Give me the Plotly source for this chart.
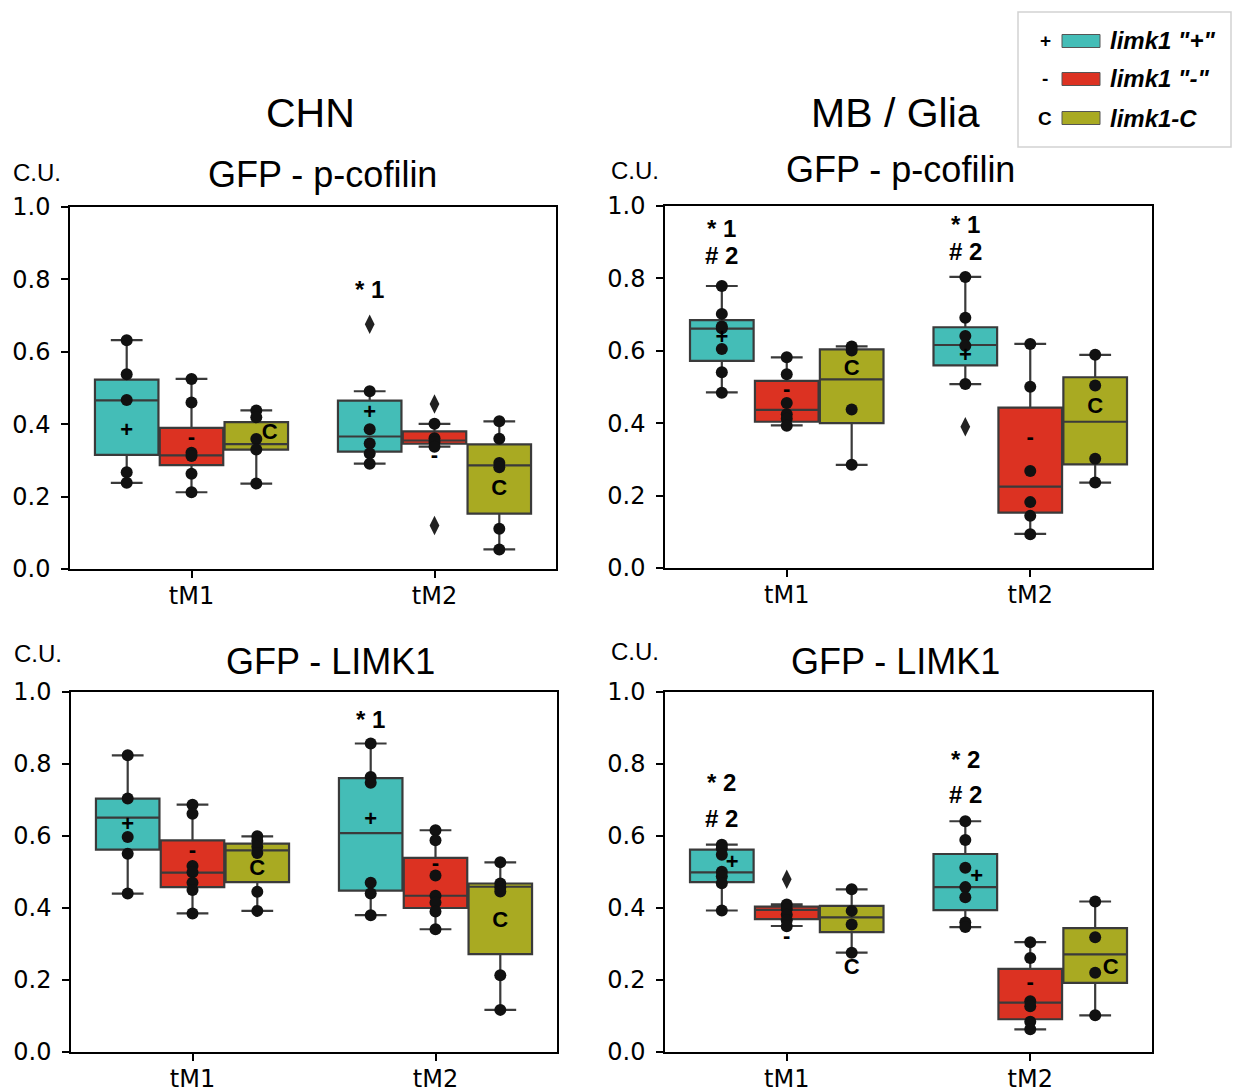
import plotly.graph_objects as go

W, H = 1233, 1092

# ---------------- data ----------------
CATEGORIES = ["tM1", "tM2"]
GENOTYPES = ['limk1 "+"', 'limk1 "-"', "limk1-C"]
MARKS = ["+", "-", "C"]
Y_TICKS = [0.0, 0.2, 0.4, 0.6, 0.8, 1.0]

# each list is [tM1 [+, -, C], tM2 [+, -, C]]
# CHN  GFP - p-cofilin
chn_cof_low = [[0.238, 0.212, 0.236], [0.291, 0.338, 0.054]]
chn_cof_q1 = [[0.315, 0.287, 0.330], [0.324, 0.346, 0.153]]
chn_cof_med = [[0.466, 0.314, 0.345], [0.366, 0.355, 0.286]]
chn_cof_q3 = [[0.523, 0.390, 0.406], [0.465, 0.380, 0.344]]
chn_cof_high = [[0.632, 0.525, 0.438], [0.491, 0.401, 0.408]]
chn_cof_mean = [[0.381, 0.360, 0.373], [0.429, 0.312, 0.219]]
chn_cof_pts = [
    [[0.632, 0.538, 0.467, 0.267, 0.238], [0.525, 0.460, 0.321, 0.312, 0.263, 0.212], [0.438, 0.419, 0.359, 0.330, 0.236]],
    [[0.491, 0.386, 0.347, 0.319, 0.291], [0.401, 0.361, 0.351, 0.338], [0.408, 0.360, 0.293, 0.281, 0.111, 0.054]],
]
chn_cof_out = [[[], [], []], [[0.676], [0.456, 0.120], []]]

# MB / Glia  GFP - p-cofilin
mb_cof_low = [[0.485, 0.394, 0.285], [0.508, 0.094, 0.236]]
mb_cof_q1 = [[0.572, 0.404, 0.400], [0.560, 0.153, 0.286]]
mb_cof_med = [[0.661, 0.437, 0.521], [0.616, 0.225, 0.404]]
mb_cof_q3 = [[0.685, 0.517, 0.604], [0.665, 0.443, 0.527]]
mb_cof_high = [[0.779, 0.582, 0.612], [0.804, 0.619, 0.589]]
mb_cof_mean = [[0.633, 0.489, 0.548], [0.585, 0.359, 0.444]]
mb_cof_pts = [
    [[0.779, 0.702, 0.667, 0.662, 0.605, 0.541, 0.484], [0.582, 0.535, 0.456, 0.425, 0.412, 0.393], [0.612, 0.601, 0.438, 0.285]],
    [[0.804, 0.691, 0.641, 0.614, 0.508], [0.619, 0.501, 0.268, 0.182, 0.144, 0.093], [0.589, 0.504, 0.302, 0.236]],
]
mb_cof_out = [[[], [], []], [[0.390], [], []]]

# CHN  GFP - LIMK1
chn_lim_low = [[0.440, 0.385, 0.392], [0.380, 0.341, 0.117]]
chn_lim_q1 = [[0.562, 0.458, 0.472], [0.448, 0.400, 0.272]]
chn_lim_med = [[0.651, 0.498, 0.560], [0.608, 0.434, 0.459]]
chn_lim_q3 = [[0.704, 0.588, 0.579], [0.761, 0.539, 0.468]]
chn_lim_high = [[0.824, 0.687, 0.599], [0.857, 0.616, 0.527]]
chn_lim_mean = [[0.630, 0.558, 0.507], [0.644, 0.522, 0.362]]
chn_lim_pts = [
    [[0.824, 0.704, 0.597, 0.551, 0.440], [0.687, 0.662, 0.517, 0.499, 0.470, 0.450, 0.385], [0.599, 0.586, 0.570, 0.553, 0.445, 0.392]],
    [[0.857, 0.764, 0.748, 0.470, 0.440, 0.380], [0.616, 0.588, 0.490, 0.434, 0.415, 0.390, 0.341], [0.527, 0.468, 0.457, 0.446, 0.213, 0.117]],
]
chn_lim_out = [[[], [], []], [[], [], []]]

# MB / Glia  GFP - LIMK1
mb_lim_low = [[0.393, 0.350, 0.276], [0.347, 0.063, 0.102]]
mb_lim_q1 = [[0.472, 0.369, 0.333], [0.394, 0.091, 0.192]]
mb_lim_med = [[0.499, 0.395, 0.374], [0.458, 0.137, 0.271]]
mb_lim_q3 = [[0.562, 0.404, 0.406], [0.550, 0.231, 0.344]]
mb_lim_high = [[0.576, 0.410, 0.452], [0.641, 0.305, 0.418]]
mb_lim_mean = [[0.525, 0.317, 0.233], [0.485, 0.190, 0.231]]
mb_lim_pts = [
    [[0.576, 0.566, 0.548, 0.501, 0.488, 0.469, 0.393], [0.410, 0.397, 0.381, 0.366, 0.349], [0.452, 0.392, 0.354, 0.276]],
    [[0.641, 0.589, 0.512, 0.458, 0.430, 0.360, 0.347], [0.305, 0.261, 0.141, 0.127, 0.084, 0.063], [0.418, 0.319, 0.220, 0.102]],
]
mb_lim_out = [[[], [0.480], []], [[], [], []]]

# significance labels: (panel index, category index, text, y value)
SIG_LABELS = [
    (0, 1, "* 1", 0.772),
    (1, 0, "* 1", 0.937), (1, 0, "# 2", 0.863),
    (1, 1, "* 1", 0.950), (1, 1, "# 2", 0.875),
    (2, 1, "* 1", 0.925),
    (3, 0, "* 2", 0.748), (3, 0, "# 2", 0.649),
    (3, 1, "* 2", 0.813), (3, 1, "# 2", 0.714),
]

COLUMN_TITLES = ["CHN", "MB / Glia"]
PANEL_TITLES = ["GFP - p-cofilin", "GFP - p-cofilin", "GFP - LIMK1", "GFP - LIMK1"]
Y_LABEL = "C.U."

# ---------------- style ----------------
COLORS = ["#44BDB7", "#DC3222", "#A9AA22"]
EDGE = "#3a3a3a"
SANS = "Liberation Sans, Arial, sans-serif"
TICKFONT = dict(family="DejaVu Sans", size=24, color="black")

# small horizontal nudges of the mean-label text (data units): [panel][cat][hue]
MARK_NUDGE = [
    [[0, 0, 0.055], [0, 0, 0]],
    [[0, 0, 0], [0, 0, 0]],
    [[0, 0, 0], [0, 0, 0]],
    [[0.043, 0, 0], [0.047, 0, 0.064]],
]

# panel plot areas in pixels (x0, x1, y0_top, y1_bottom)
PANEL_PX = [
    (70, 556, 207, 569),
    (665, 1152, 206, 568),
    (71, 557, 692, 1052),
    (665, 1152, 692, 1052),
]

panels = [
    dict(low=chn_cof_low, q1=chn_cof_q1, med=chn_cof_med, q3=chn_cof_q3, high=chn_cof_high,
         mean=chn_cof_mean, pts=chn_cof_pts, out=chn_cof_out),
    dict(low=mb_cof_low, q1=mb_cof_q1, med=mb_cof_med, q3=mb_cof_q3, high=mb_cof_high,
         mean=mb_cof_mean, pts=mb_cof_pts, out=mb_cof_out),
    dict(low=chn_lim_low, q1=chn_lim_q1, med=chn_lim_med, q3=chn_lim_q3, high=chn_lim_high,
         mean=chn_lim_mean, pts=chn_lim_pts, out=chn_lim_out),
    dict(low=mb_lim_low, q1=mb_lim_q1, med=mb_lim_med, q3=mb_lim_q3, high=mb_lim_high,
         mean=mb_lim_mean, pts=mb_lim_pts, out=mb_lim_out),
]

GROUP_WIDTH = 0.8
n_h = len(GENOTYPES)
slot = GROUP_WIDTH / n_h
offsets = [-GROUP_WIDTH / 2 + slot * (i + 0.5) for i in range(n_h)]


def px(x):
    return x / W


def py(y):
    return 1 - y / H


fig = go.Figure()

for p_i, panel in enumerate(panels):
    xa = "x" if p_i == 0 else f"x{p_i + 1}"
    ya = "y" if p_i == 0 else f"y{p_i + 1}"
    for c_i, cat in enumerate(CATEGORIES):
        for h_i in range(n_h):
            pos = c_i + offsets[h_i]
            fig.add_trace(go.Box(
                x=[pos],
                q1=[panel["q1"][c_i][h_i]], median=[panel["med"][c_i][h_i]],
                q3=[panel["q3"][c_i][h_i]],
                lowerfence=[panel["low"][c_i][h_i]], upperfence=[panel["high"][c_i][h_i]],
                width=slot * 0.98, whiskerwidth=0.5,
                fillcolor=COLORS[h_i], line=dict(color=EDGE, width=2.2),
                boxpoints=False, xaxis=xa, yaxis=ya, showlegend=False,
                hoverinfo="skip", name=GENOTYPES[h_i],
            ))
            pts = panel["pts"][c_i][h_i]
            fig.add_trace(go.Scatter(
                x=[pos] * len(pts), y=pts, mode="markers",
                marker=dict(size=12, color="#111111"),
                xaxis=xa, yaxis=ya, showlegend=False, hoverinfo="skip",
            ))
            outs = panel["out"][c_i][h_i]
            if outs:
                fig.add_trace(go.Scatter(
                    x=[pos] * len(outs), y=outs, mode="markers",
                    marker=dict(symbol="diamond-tall", size=14, color="#222222"),
                    xaxis=xa, yaxis=ya, showlegend=False, hoverinfo="skip",
                ))
            fig.add_trace(go.Scatter(
                x=[pos + MARK_NUDGE[p_i][c_i][h_i]], y=[panel["mean"][c_i][h_i]],
                mode="text", text=[f"<b>{MARKS[h_i]}</b>"],
                textposition="middle center",
                textfont=dict(family=SANS, size=22, color="black"),
                xaxis=xa, yaxis=ya, showlegend=False, hoverinfo="skip",
            ))

annotations = []
for p_i, c_i, txt, yv in SIG_LABELS:
    xa = "x" if p_i == 0 else f"x{p_i + 1}"
    ya = "y" if p_i == 0 else f"y{p_i + 1}"
    annotations.append(dict(
        x=c_i + offsets[0], y=yv, xref=xa, yref=ya, text=f"<b>{txt}</b>",
        showarrow=False, font=dict(family=SANS, size=24, color="black"),
        xanchor="center", yanchor="middle",
    ))

layout_axes = {}
for p_i, (x0, x1, y0, y1) in enumerate(PANEL_PX):
    xk = "xaxis" if p_i == 0 else f"xaxis{p_i + 1}"
    yk = "yaxis" if p_i == 0 else f"yaxis{p_i + 1}"
    xa = "x" if p_i == 0 else f"x{p_i + 1}"
    ya = "y" if p_i == 0 else f"y{p_i + 1}"
    common = dict(showline=True, mirror=True, linecolor="black", linewidth=1.5,
                  ticks="outside", ticklen=7, tickwidth=1.5, tickcolor="black",
                  showgrid=False, zeroline=False, tickfont=TICKFONT,
                  automargin=False, fixedrange=True)
    layout_axes[xk] = dict(domain=[px(x0), px(x1)], anchor=ya, type="linear",
                           range=[-0.5, len(CATEGORIES) - 0.5],
                           tickvals=list(range(len(CATEGORIES))), ticktext=CATEGORIES,
                           ticklabelstandoff=-3, **common)
    layout_axes[yk] = dict(domain=[py(y1), py(y0)], anchor=xa, type="linear",
                           range=[0, 1], tickvals=Y_TICKS, tickformat=".1f",
                           ticklabelstandoff=6, **common)

# titles and labels (paper coordinates)
for txt, cx in zip(COLUMN_TITLES, [310, 895]):
    annotations.append(dict(x=px(cx), y=py(113), xref="paper", yref="paper", text=txt,
                            showarrow=False, font=dict(family=SANS, size=41, color="black"),
                            xanchor="center", yanchor="middle"))
for txt, (cx, cy) in zip(PANEL_TITLES, [(322, 174), (900, 169), (330, 661), (895, 661)]):
    annotations.append(dict(x=px(cx), y=py(cy), xref="paper", yref="paper", text=txt,
                            showarrow=False, font=dict(family=SANS, size=36, color="black"),
                            xanchor="center", yanchor="middle"))
for (lx, ly) in [(11, 172), (609, 170), (12, 653), (609, 651)]:
    annotations.append(dict(x=px(lx), y=py(ly), xref="paper", yref="paper", text=Y_LABEL,
                            showarrow=False, font=dict(family=SANS, size=24, color="black"),
                            xanchor="left", yanchor="middle"))

# legend (drawn manually)
shapes = [dict(type="rect", xref="paper", yref="paper", x0=px(1018), x1=px(1231),
               y0=py(147), y1=py(12), line=dict(color="#d2d2d2", width=1.5),
               fillcolor="white", layer="below")]
for h_i, cy in enumerate([41, 79, 118]):
    shapes.append(dict(type="rect", xref="paper", yref="paper", x0=px(1062), x1=px(1100),
                       y0=py(cy + 6.5), y1=py(cy - 6.5), line=dict(color="#555555", width=1),
                       fillcolor=COLORS[h_i]))
    annotations.append(dict(x=px(1045), y=py(cy), xref="paper", yref="paper",
                            text=f"<b>{MARKS[h_i]}</b>", showarrow=False,
                            font=dict(family=SANS, size=19, color="black"),
                            xanchor="center", yanchor="middle"))
    annotations.append(dict(x=px(1108), y=py(cy), xref="paper", yref="paper",
                            text=f"<b><i>{GENOTYPES[h_i]}</i></b>", showarrow=False,
                            font=dict(family=SANS, size=24, color="black"),
                            xanchor="left", yanchor="middle"))

fig.update_layout(
    width=W, height=H, margin=dict(l=0, r=0, t=0, b=0),
    paper_bgcolor="white", plot_bgcolor="white",
    showlegend=False, annotations=annotations, shapes=shapes,
    **layout_axes,
)

fig.write_html("out.html", config={"displayModeBar": False},
               post_script="document.body.style.margin='0';")
